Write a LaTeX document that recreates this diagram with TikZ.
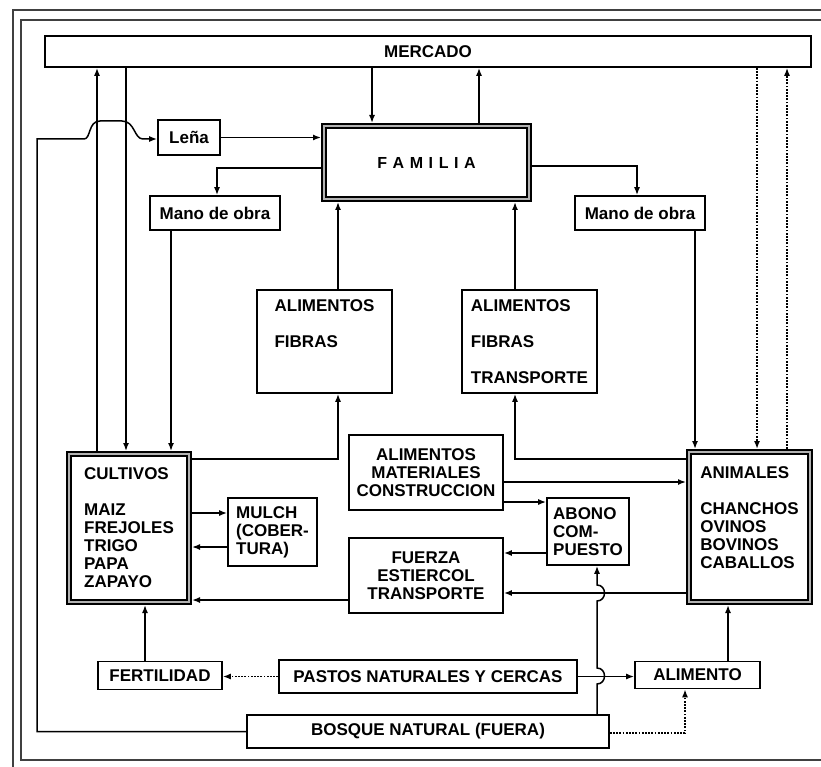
\documentclass[tikz,border=0pt]{standalone}
\usepackage{fontspec}
\setmainfont{Liberation Sans}
\usetikzlibrary{arrows.meta}
\begin{document}
\begin{tikzpicture}[x=1pt,y=-1pt,
  box/.style={draw, line width=1.6pt, inner sep=0pt, align=center, font=\fontsize{17}{18}\selectfont\bfseries},
  boxl/.style={box, align=left},
  thickbox/.style={box, align=left, line width=1.8pt, double=gray!60, double distance=2.5pt, outer sep=3.05pt},
  arr/.style={line width=1.5pt, -{Latex[length=8pt,width=6pt]}},
  dotarr/.style={arr, dash pattern=on 1.8pt off 1.4pt},
  frame/.style={line width=2.2pt, black!75}
]
\useasboundingbox (0,0) rectangle (821,767);
% frames
\draw[frame] (13,767) -- (13,10) -- (821,10);
\draw[frame] (821,20) -- (21,20) -- (21,760) -- (821,760);

% nodes
\node[box, minimum width=766pt, minimum height=31pt] (merc) at (428,51.5) {MERCADO};
\node[thickbox, align=center, minimum width=204.9pt, minimum height=72.9pt] (fam) at (426.5,162.5)
  {\fontsize{16}{18}\selectfont F\kern5.6pt A\kern5.6pt M\kern5.6pt I\kern5.6pt L\kern5.6pt I\kern5.6pt A};
\node[box, minimum width=62pt, minimum height=35pt] (lena) at (189,137.5) {Leña};
\node[box, minimum width=130pt, minimum height=34pt] (manoL) at (215,213) {Mano de obra};
\node[box, minimum width=130pt, minimum height=34pt] (manoR) at (640,213) {Mano de obra};
\node[boxl, minimum width=135pt, minimum height=103pt] (alimL) at (324.5,341.5) {ALIMENTOS\\[18pt]FIBRAS\\[18pt]~};
\node[boxl, minimum width=135pt, minimum height=103pt] (alimR) at (529.5,341.5) {ALIMENTOS\\[18pt]FIBRAS\\[18pt]TRANSPORTE};
\node[thickbox, minimum width=119.9pt, minimum height=147.9pt] (cult) at (129,528)
  {CULTIVOS\\[18pt]MAIZ\\FREJOLES\\TRIGO\\PAPA\\ZAPAYO};
\node[boxl, minimum width=89pt, minimum height=68pt] (mulch) at (272.5,532) {MULCH\\(COBER-\\TURA)};
\node[box, minimum width=154pt, minimum height=75pt] (amc) at (426,472.5) {ALIMENTOS\\MATERIALES\\CONSTRUCCION};
\node[boxl, minimum width=82pt, minimum height=67pt] (abono) at (588,531.5) {ABONO\\COM-\\PUESTO};
\node[box, minimum width=154pt, minimum height=75pt] (fuerza) at (426,575.5) {FUERZA\\ESTIERCOL\\TRANSPORTE};
\node[thickbox, minimum width=120.9pt, minimum height=149.9pt] (anim) at (749.5,527)
  {ANIMALES\\[18pt]CHANCHOS\\OVINOS\\BOVINOS\\CABALLOS\\~};
\node[box, minimum width=124pt, minimum height=28pt] (fert) at (160,675.5) {FERTILIDAD};
\node[box, minimum width=298pt, minimum height=33pt] (pastos) at (428,676.5) {PASTOS NATURALES Y CERCAS};
\node[box, minimum width=125pt, minimum height=27pt] (alim) at (697.5,675) {ALIMENTO};
\node[box, minimum width=362pt, minimum height=33pt] (bosq) at (428,731.5) {BOSQUE NATURAL (FUERA)};

% connectors: mercado
\draw[arr] (97,0 |- cult.north) -- (97,0 |- merc.south);
\draw[arr] (126,0 |- merc.south) -- (126,0 |- cult.north);
\draw[arr] (372,0 |- merc.south) -- (372,0 |- fam.north);
\draw[arr] (479,0 |- fam.north) -- (479,0 |- merc.south);
\draw[dotarr] (757,0 |- merc.south) -- (757,0 |- anim.north);
\draw[dotarr] (787,0 |- anim.north) -- (787,0 |- merc.south);

% lena
\draw[arr] (lena.east) -- (fam.west |- lena.east);
\draw[arr] (bosq.west) -- (37,0 |- bosq.west) -- (37,139) -- (84,139)
  .. controls (91,139) and (88,121) .. (100,121) -- (122,121)
  .. controls (135,121) and (134,139) .. (143,139) -- (lena.west |- 0,139);

% mano de obra
\draw[arr] (fam.west |- 0,168) -| (217,0 |- manoL.north);
\draw[arr] (fam.east |- 0,166) -| (637,0 |- manoR.north);
\draw[arr] (171,0 |- manoL.south) -- (171,0 |- cult.north);
\draw[arr] (695,0 |- manoR.south) -- (695,0 |- anim.north);

% alimentos
\draw[arr] (338,0 |- alimL.north) -- (338,0 |- fam.south);
\draw[arr] (515,0 |- alimR.north) -- (515,0 |- fam.south);
\draw[arr] (cult.east |- 0,459) -| (338,0 |- alimL.south);
\draw[arr] (anim.west |- 0,459) -| (515,0 |- alimR.south);

% middle
\draw[arr] (cult.east |- 0,513) -- (mulch.west |- 0,513);
\draw[arr] (mulch.west |- 0,547) -- (cult.east |- 0,547);
\draw[arr] (amc.east |- 0,482) -- (anim.west |- 0,482);
\draw[arr] (amc.east |- 0,502) -- (abono.west |- 0,502);
\draw[arr] (abono.west |- 0,553) -- (fuerza.east |- 0,553);
\draw[arr] (anim.west |- 0,593) -- (fuerza.east |- 0,593);
\draw[arr] (fuerza.west |- 0,600) -- (cult.east |- 0,600);

% bottom
\draw[arr] (145,0 |- fert.north) -- (145,0 |- cult.south);
\draw[dotarr] (pastos.west) -- (fert.east |- pastos.west);
\draw[arr] (pastos.east) -- (alim.west |- pastos.east);
\draw[arr] (728,0 |- alim.north) -- (728,0 |- anim.south);
\draw[dotarr] (bosq.east |- 0,733) -| (685,0 |- alim.south);
\draw[arr] (597,0 |- bosq.north) -- (597,684)
  .. controls (607,684) and (607,668) .. (597,668) -- (597,601)
  .. controls (607,601) and (607,585) .. (597,585) -- (597,0 |- abono.south);
\end{tikzpicture}
\end{document}
